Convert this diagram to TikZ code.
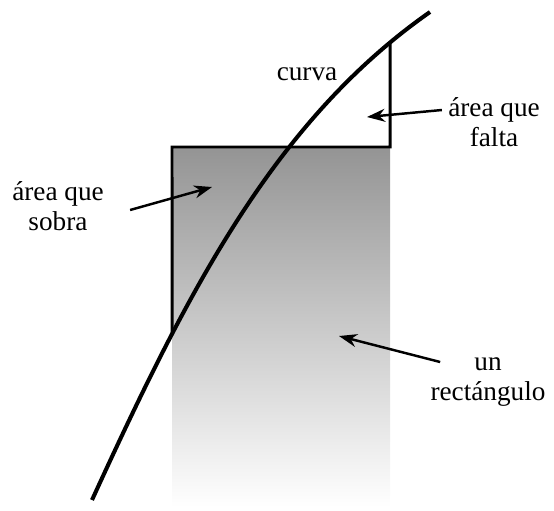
\documentclass[tikz,border=0pt]{standalone}
\usepackage{fontspec}
\setmainfont{Liberation Serif}
\usetikzlibrary{arrows.meta, intersections}

\definecolor{rgris}{RGB}{148, 148, 148}
\definecolor{rgrismed}{RGB}{178, 178, 178}

\tikzset{
	etiqueta/.style={align=center, inner sep=0pt, font=\fontsize{15.5}{16.8}\selectfont},
	flecha/.style={line width=1.4pt, -{Stealth[length=3.6mm, width=2.6mm]}},
	borde/.style={line width=1.7pt},
	curvalinea/.style={line width=2.3pt},
}

\begin{document}
\begin{tikzpicture}[x=0.2mm, y=-0.2mm]
	\useasboundingbox (0,0) rectangle (554,510);

	% --- Shaded rectangle ---
	\shade[top color=rgris, middle color=rgrismed, bottom color=white] (172,147) rectangle (390,507);

	% --- Curve ---
	\draw[curvalinea, name path=curva] (92,500) .. controls (187.7,290.9) and (274.4,120.9) .. (430,12);

	\path[name path=izq] (172,147) -- (172,510);
	\path[name path=der] (390,0) -- (390,147);
	\path[name intersections={of=curva and izq, by=c1}];
	\path[name intersections={of=curva and der, by=c2}];

	\draw[borde] (c1) -- (172,147) -- (390,147) -- (c2);

	% --- Labels ---
	\node[etiqueta] (curvalbl) at (307,74) {curva};
	\node[etiqueta] (falta) at (494,122) {área que\\falta};
	\node[etiqueta] (sobra) at (58,206) {área que\\sobra};
	\node[etiqueta] (recta) at (488,382) {un\\rectángulo};

	\coordinate (tfalta) at (367,117);
	\coordinate (tsobra) at (212,187);
	\coordinate (trecta) at (339,336);

	\draw[flecha] ([shift={(-6,-12)}]falta.west) -- (tfalta);
	\draw[flecha] ([shift={(26,4)}]sobra.east) -- (tsobra);
	\draw[flecha] ([shift={(10,-20)}]recta.west) -- (trecta);

\end{tikzpicture}
\end{document}
